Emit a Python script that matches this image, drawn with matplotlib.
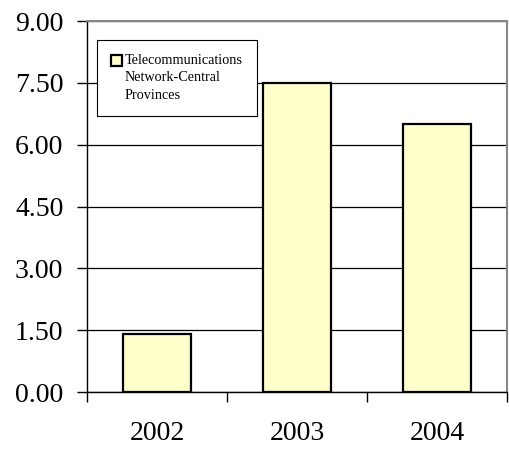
import matplotlib
matplotlib.use('Agg')
import matplotlib.pyplot as plt
from matplotlib.patches import Rectangle
from matplotlib.legend_handler import HandlerPatch
from matplotlib.container import BarContainer
import numpy as np

years = ['2002', '2003', '2004']
values = [1.40, 7.50, 6.50]
yticks = [0.0, 1.5, 3.0, 4.5, 6.0, 7.5, 9.0]
series_label = 'Telecommunications\nNetwork-Central\nProvinces'

plt.rcParams['font.family'] = ['Liberation Serif', 'DejaVu Serif']

LEG_FS = 10.3
LINE_PITCH = 12.6  # points between label lines

fig = plt.figure(figsize=(5.10, 4.62), dpi=100)
ax = fig.add_axes([0.1706, 0.1515, 0.8235, 0.803])

x = np.arange(len(years))
ax.bar(x, values, width=0.48, color='#ffffcc', edgecolor='black',
       linewidth=1.6, label=series_label, zorder=3)

ax.set_xlim(-0.5, len(years) - 0.5)
ax.set_ylim(0, 9)
ax.set_yticks(yticks)
ax.set_yticklabels(['%.2f' % v for v in yticks], fontsize=20)
ax.yaxis.grid(True, color='black', linewidth=0.9, zorder=0)

# category labels centred, tick marks at the boundaries
ax.set_xticks(x)
ax.set_xticklabels(years, fontsize=20)
ax.tick_params(axis='x', length=0, pad=21)
ax.set_xticks(np.arange(len(years) + 1) - 0.5, minor=True)
ax.tick_params(axis='x', which='minor', length=7, width=1, color='black')
ax.tick_params(axis='y', length=7, width=1, pad=10)

for s in ['top', 'right']:
    ax.spines[s].set_color('#888888')
    ax.spines[s].set_linewidth(1.5)
for s in ['left', 'bottom']:
    ax.spines[s].set_color('black')
    ax.spines[s].set_linewidth(1.0)


# legend marker sits next to the first line of the label
def top_square(legend, orig_handle, xdescent, ydescent, width, height, fontsize):
    side = 7.5
    y0 = -ydescent + (height - side) / 2 + LINE_PITCH
    return Rectangle((-xdescent, y0), side, side)


def copy_style(tgt, orig):
    tgt.update_from(orig.patches[0])
    tgt.set_linewidth(1.6)


leg = ax.legend(loc='upper left', bbox_to_anchor=(0.024, 0.95),
                fontsize=LEG_FS, frameon=True, fancybox=False, framealpha=1,
                handlelength=0.75, handleheight=0.75, handletextpad=0.2,
                borderpad=1.0, borderaxespad=0,
                handler_map={BarContainer: HandlerPatch(patch_func=top_square,
                                                        update_func=copy_style)})
for t in leg.get_texts():
    t.set_linespacing(1.45)
leg.get_frame().set_edgecolor('black')
leg.get_frame().set_linewidth(0.8)
leg.set_zorder(5)

fig.savefig('out.png', dpi=100)
